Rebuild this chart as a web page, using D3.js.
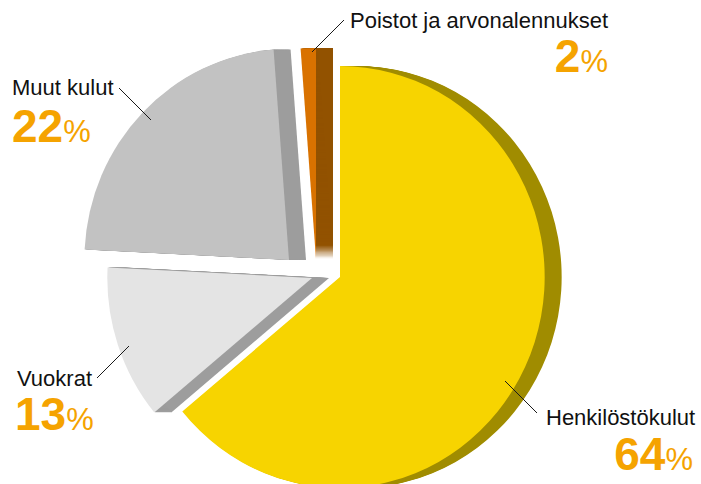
<!DOCTYPE html>
<html>
<head>
<meta charset="utf-8">
<script src="https://cdn.jsdelivr.net/npm/d3@7"></script>
<style>
  body { margin: 0; background: #fff; }
  svg { display: block; font-family: "Liberation Sans", Arial, sans-serif; }
</style>
</head>
<body>
<svg id="chart" width="701" height="484"></svg>
<script>
// slices, clockwise from 12 o'clock
const categories = ["Henkilöstökulut", "Vuokrat", "Muut kulut", "Poistot ja arvonalennukset"];
const shares     = [64.0, 11.8, 23.0, 1.2];   // slice sizes as drawn
const pctLabels  = ["64", "13", "22", "2"];    // printed percentages

const faceColors = ["#f7d400", "#e4e4e4", "#c2c2c2", "#d97200"];
const sideColors = ["#a08c00", "#9d9d9d", "#9d9d9d", "#925200"];

const width = 701, height = 484;
const cx = 340, cy = 277;
const radius = 211;
const squash = 0.97;            // pie is a touch narrower than tall
const depth = 17;               // thickness of the 3d side, drawn to the right
// how far each slice is pulled out of the pie
const pullOut = [[0, 0], [-28, 1], [-51, -17], [-24, -18]];

// label placement: name, percent, leader line (outer end, direction)
const labelPos = [
  { x: 546, y: 425, anchor: "start", px: 693, py: 470, panchor: "end",   lx: 537, ly: 413, dx: -1, dy: -1 },
  { x: 17,  y: 386, anchor: "start", px: 15,  py: 430, panchor: "start", lx: 97,  ly: 378, dx: 1,  dy: -1 },
  { x: 12,  y: 95,  anchor: "start", px: 12,  py: 142, panchor: "start", lx: 119, ly: 88,  dx: 1,  dy: 1 },
  { x: 350, y: 28,  anchor: "start", px: 608, py: 72,  panchor: "end",   lx: 344, ly: 20,  dx: -1, dy: 1 }
];
const leaderLen = 32;

const svg = d3.select("#chart");

const pie = d3.pie().sort(null).value(d => d)(shares);
const arc = d3.arc().innerRadius(0).outerRadius(radius);

const chart = svg.append("g").attr("transform", `translate(${cx},${cy})`);

// sides first (swept copies), faces on top
const sides = chart.append("g");
pie.forEach((d, i) => {
  const [ox, oy] = pullOut[i];
  sides.selectAll(null)
    .data(d3.range(1, depth + 1))
    .join("path")
    .attr("d", arc(d))
    .attr("fill", sideColors[i])
    .attr("transform", k => `translate(${ox + k},${oy}) scale(${squash},1)`);
});

chart.append("g")
  .selectAll("path")
  .data(pie)
  .join("path")
  .attr("d", arc)
  .attr("fill", (d, i) => faceColors[i])
  .attr("transform", (d, i) => `translate(${pullOut[i][0]},${pullOut[i][1]}) scale(${squash},1)`);

// labels
const labels = svg.append("g");
labelPos.forEach((p, i) => {
  labels.append("line")
    .attr("x1", p.lx).attr("y1", p.ly)
    .attr("x2", p.lx + p.dx * leaderLen).attr("y2", p.ly + p.dy * leaderLen)
    .attr("stroke", "#1a1a1a")
    .attr("stroke-width", 1);

  labels.append("text")
    .attr("x", p.x).attr("y", p.y)
    .attr("text-anchor", p.anchor)
    .attr("font-size", 22)
    .attr("fill", "#111")
    .text(categories[i]);

  const t = labels.append("text")
    .attr("x", p.px).attr("y", p.py)
    .attr("text-anchor", p.panchor)
    .attr("fill", "#f5a300");
  t.append("tspan").attr("font-size", 46).attr("font-weight", "bold").text(pctLabels[i]);
  t.append("tspan").attr("font-size", 31).text("%");
});
</script>
</body>
</html>
